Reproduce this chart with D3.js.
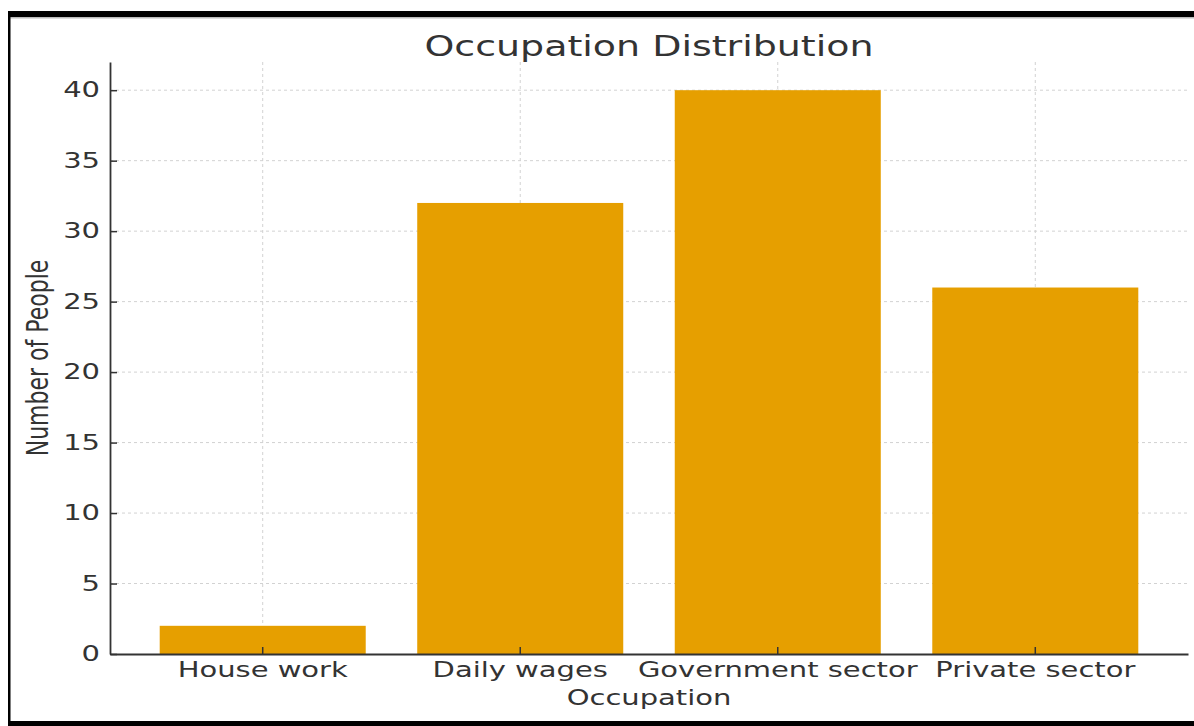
<!DOCTYPE html>
<html>
  <head>
    <meta charset="utf-8">
    <title>Occupation Distribution</title>
    <style>
      body { margin: 0; background: #fff; }
      text { font-family: "DejaVu Sans", sans-serif; fill: #333; }
    </style>
  </head>
  <body>
    <script src="https://cdn.jsdelivr.net/npm/d3@7"></script>
    <script>
      var categories = ['House work', 'Daily wages', 'Government sector', 'Private sector'];
      var counts = [2, 32, 40, 26];
      var yTicks = [0, 5, 10, 15, 20, 25, 30, 35, 40];

      var W = 1194, H = 726;
      var plotLeft = 110, plotRight = 1188, plotTop = 62, plotBottom = 654;
      var sx = 1.38; // picture is stretched sideways, so text is too

      var svg = d3.select('body').append('svg').attr('width', W).attr('height', H);

      // frame
      svg.append('rect').attr('x', 8).attr('y', 11).attr('width', W - 8).attr('height', 6).attr('fill', '#000');
      svg.append('rect').attr('x', 8).attr('y', 17).attr('width', W - 8).attr('height', 1.5).attr('fill', '#bbb');
      svg.append('rect').attr('x', 8).attr('y', 11).attr('width', 2.5).attr('height', H - 11).attr('fill', '#000');
      svg.append('rect').attr('x', 8).attr('y', 721).attr('width', W - 8).attr('height', 5).attr('fill', '#000');

      var x = d3.scaleBand().domain(categories).range([plotLeft, plotRight]).paddingInner(0.2).paddingOuter(0.193);
      var y = d3.scaleLinear().domain([0, 42]).range([plotBottom, plotTop]);

      // grid
      var grid = svg.append('g').attr('stroke', '#d2d2d2').attr('stroke-width', 1).attr('stroke-dasharray', '3,3');
      grid.selectAll('.gy').data(yTicks.slice(1)).enter().append('line')
        .attr('x1', plotLeft).attr('x2', plotRight)
        .attr('y1', function(d){ return y(d); }).attr('y2', function(d){ return y(d); });
      grid.selectAll('.gx').data(categories).enter().append('line')
        .attr('y1', plotTop).attr('y2', plotBottom)
        .attr('x1', function(d){ return x(d) + x.bandwidth() / 2; })
        .attr('x2', function(d){ return x(d) + x.bandwidth() / 2; });

      // bars
      svg.selectAll('.bar').data(counts).enter().append('rect')
        .attr('fill', '#E69F00')
        .attr('x', function(d, i){ return x(categories[i]); })
        .attr('width', x.bandwidth())
        .attr('y', function(d){ return y(d); })
        .attr('height', function(d){ return y(0) - y(d); });

      // axes
      var yAxis = svg.append('g').attr('transform', 'translate(' + plotLeft + ',0)')
        .call(d3.axisLeft(y).tickValues(yTicks).tickSize(-7).tickSizeOuter(0).tickPadding(10));
      var xAxis = svg.append('g').attr('transform', 'translate(0,' + plotBottom + ')')
        .call(d3.axisBottom(x).tickSize(-7).tickSizeOuter(0).tickPadding(8));

      [yAxis, xAxis].forEach(function(g){
        g.select('.domain').attr('stroke', '#333').attr('stroke-width', 1.8);
        g.selectAll('.tick line').attr('stroke', '#333').attr('stroke-width', 1.5);
        g.selectAll('.tick text')
          .attr('font-size', 21).attr('font-family', '"DejaVu Sans", sans-serif').attr('fill', '#333')
          .attr('x', function(){ return (+d3.select(this).attr('x') || 0) / sx; })
          .attr('transform', 'scale(' + sx + ',1)');
      });

      // title and labels
      var midX = (plotLeft + plotRight) / 2;
      svg.append('text')
        .attr('transform', 'translate(' + midX + ',56) scale(' + sx + ',1)')
        .attr('text-anchor', 'middle').attr('font-size', 27.5)
        .text('Occupation Distribution');

      svg.append('text')
        .attr('transform', 'translate(' + midX + ',705) scale(' + sx + ',1)')
        .attr('text-anchor', 'middle').attr('font-size', 21)
        .text('Occupation');

      svg.append('text')
        .attr('transform', 'translate(48,' + (plotTop + plotBottom) / 2 + ') rotate(-90) scale(1,' + sx + ')')
        .attr('text-anchor', 'middle').attr('font-size', 22)
        .text('Number of People');
    </script>
  </body>
</html>
